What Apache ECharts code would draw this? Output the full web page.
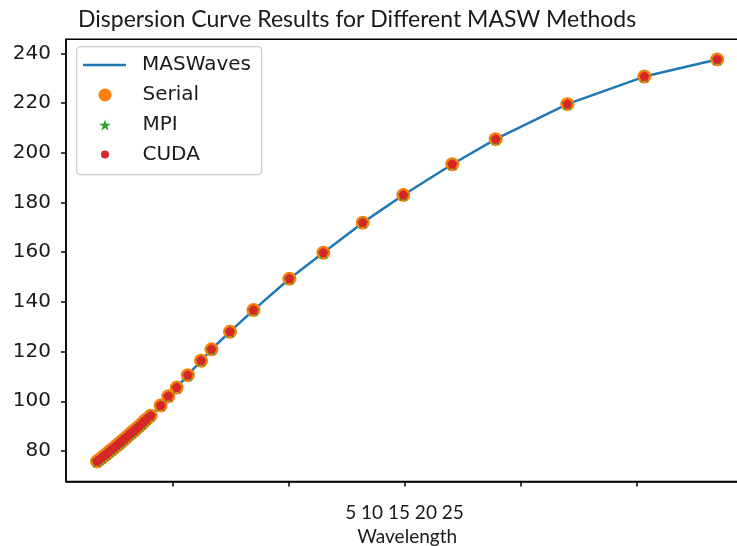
<!DOCTYPE html>
<html>
<head>
<meta charset="utf-8">
<script src="https://cdn.jsdelivr.net/npm/echarts@6/dist/echarts.min.js"></script>
<style>
html,body{margin:0;padding:0;background:#fff;}
#chart{width:737px;height:546px;}
</style>
</head>
<body>
<div id="chart"></div>
<script>
// ---- data ----
const wavelength = [1.75,1.85,1.96,2.07,2.18,2.28,2.39,2.50,2.61,2.72,2.82,2.93,3.04,3.15,3.25,3.36,3.47,3.58,3.69,3.79,3.90,4.06,4.49,4.82,5.18,5.66,6.23,6.68,7.48,8.49,10.04,11.50,13.20,14.95,17.06,18.93,22.02,25.34,28.48];
const maswavesV = [75.8,76.5,77.3,78.2,78.9,79.8,80.6,81.4,82.3,83.1,83.9,84.8,85.7,86.6,87.4,88.3,89.2,90.1,91.0,92.0,92.9,94.2,98.3,102.0,105.5,110.5,116.3,120.9,128.0,136.7,149.3,159.8,171.9,183.0,195.4,205.5,219.6,230.7,237.6];
const serialV = [75.8,76.5,77.3,78.2,78.9,79.8,80.6,81.4,82.3,83.1,83.9,84.8,85.7,86.6,87.4,88.3,89.2,90.1,91.0,92.0,92.9,94.2,98.3,102.0,105.5,110.5,116.3,120.9,128.0,136.7,149.3,159.8,171.9,183.0,195.4,205.5,219.6,230.7,237.6];
const mpiV = [75.8,76.5,77.3,78.2,78.9,79.8,80.6,81.4,82.3,83.1,83.9,84.8,85.7,86.6,87.4,88.3,89.2,90.1,91.0,92.0,92.9,94.2,98.3,102.0,105.5,110.5,116.3,120.9,128.0,136.7,149.3,159.8,171.9,183.0,195.4,205.5,219.6,230.7,237.6];
const cudaV = [75.8,76.5,77.3,78.2,78.9,79.8,80.6,81.4,82.3,83.1,83.9,84.8,85.7,86.6,87.4,88.3,89.2,90.1,91.0,92.0,92.9,94.2,98.3,102.0,105.5,110.5,116.3,120.9,128.0,136.7,149.3,159.8,171.9,183.0,195.4,205.5,219.6,230.7,237.6];
const yTicks = [80,100,120,140,160,180,200,220,240];
const xTicks = [5,10,15,20,25];
const xTickLabelAt = [15];
const xTickText = '5 10 15 20 25';
const titleText = 'Dispersion Curve Results for Different MASW Methods';
const xName = 'Wavelength';

const pairs = (xs, ys) => xs.map((x, i) => [x, ys[i]]);

const STAR = 'path://M0,-10L2.245,-3.09L9.51,-3.09L3.633,1.18L5.878,8.09L0,3.82L-5.878,8.09L-3.633,1.18L-9.51,-3.09L-2.245,-3.09Z';
const LINEICON = 'path://M0,0H43V2.5H0Z';
const DARK = '#1a1a1a';
const CAL = 'Lato, "Open Sans", sans-serif';
const DJV = '"DejaVu Sans", sans-serif';

const legendCommon = {
  padding: 0, itemWidth: 43, selectedMode: false, z: 6,
  itemStyle: { borderWidth: 0 },
  textStyle: { fontFamily: DJV, fontSize: 20, color: DARK, lineHeight: 22, padding: [0, 0, 0, 11] }
};

const chart = echarts.init(document.getElementById('chart'), null, { renderer: 'canvas' });
chart.setOption({
  animation: false,
  backgroundColor: '#fff',
  title: {
    text: titleText, left: 78, top: 6, padding: 0,
    textStyle: { fontFamily: CAL, fontWeight: 'normal', fontSize: 23, color: DARK, lineHeight: 28 }
  },
  grid: {
    left: 66, top: 39.3, right: -11.3, bottom: 64.4,
    show: true, borderColor: '#000', borderWidth: 1.5, containLabel: false, outerBoundsMode: 'none'
  },
  legend: [
    Object.assign({}, legendCommon, { left: 83, top: 54, itemHeight: 14, data: [{ name: 'MASWaves', icon: LINEICON }] }),
    Object.assign({}, legendCommon, { left: 98.5, top: 84, itemHeight: 13, data: [{ name: 'Serial', icon: 'circle' }] }),
    Object.assign({}, legendCommon, { left: 99.2, top: 114, itemHeight: 11, data: [{ name: 'MPI', icon: STAR }] }),
    Object.assign({}, legendCommon, { left: 101, top: 143.5, itemHeight: 8, data: [{ name: 'CUDA', icon: 'circle' }] })
  ],
  graphic: [{
    type: 'rect', left: 76, top: 46, z: 5,
    shape: { width: 185, height: 128, r: 4 },
    style: { fill: 'rgba(255,255,255,0.85)', stroke: '#cccccc', lineWidth: 1.3 }
  }],
  xAxis: {
    type: 'value', min: 0.41, max: 29.82,
    axisLine: { show: true, onZero: false, lineStyle: { color: '#000', width: 1.5 } },
    axisTick: { show: true, customValues: xTicks, length: 5, lineStyle: { color: '#000', width: 1.5 } },
    axisLabel: { show: true, customValues: xTickLabelAt, formatter: () => xTickText, margin: 22,
      fontFamily: CAL, fontSize: 19, lineHeight: 19, color: DARK },
    splitLine: { show: false },
    name: xName, nameLocation: 'middle', nameGap: 43,
    nameTextStyle: { fontFamily: CAL, fontSize: 19, lineHeight: 19, color: DARK }
  },
  yAxis: {
    type: 'value', min: 67.66, max: 245.7,
    axisLine: { show: true, onZero: false, lineStyle: { color: '#000', width: 1.5 } },
    axisTick: { show: true, customValues: yTicks, length: 5, lineStyle: { color: '#000', width: 1.5 } },
    axisLabel: { show: true, customValues: yTicks, margin: 15, fontFamily: DJV, fontSize: 20, color: DARK },
    splitLine: { show: false }
  },
  series: [
    { name: 'MASWaves', type: 'line', data: pairs(wavelength, maswavesV), showSymbol: false, symbol: 'none',
      lineStyle: { color: '#1f77b4', width: 2.5 }, itemStyle: { color: '#1f77b4' }, z: 2 },
    { name: 'Serial', type: 'scatter', data: pairs(wavelength, serialV), symbol: 'circle', symbolSize: 14,
      itemStyle: { color: '#ff7f0e', opacity: 1 }, z: 3 },
    { name: 'MPI', type: 'scatter', data: pairs(wavelength, mpiV), symbol: STAR, symbolSize: 13,
      itemStyle: { color: '#2ca02c', opacity: 1 }, z: 3 },
    { name: 'CUDA', type: 'scatter', data: pairs(wavelength, cudaV), symbol: 'circle', symbolSize: 9,
      itemStyle: { color: '#d62728', opacity: 1 }, z: 3 }
  ]
});
</script>
</body>
</html>
